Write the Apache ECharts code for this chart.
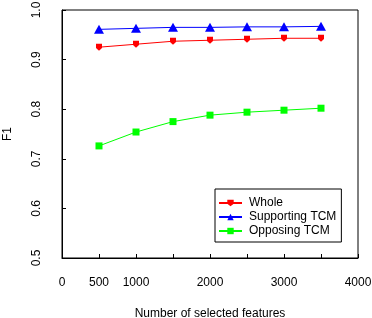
<!DOCTYPE html>
<html><head><meta charset="utf-8">
<script src="https://cdn.jsdelivr.net/npm/echarts@6/dist/echarts.min.js"></script>
<style>html,body{margin:0;padding:0;background:#fff}#c{width:372px;height:318px}</style>
</head><body><div id="c"></div>
<script>
const xValues = [500, 1000, 1500, 2000, 2500, 3000, 3500];
const seriesNames = ['Whole', 'Supporting TCM', 'Opposing TCM'];
const whole = [0.925, 0.931, 0.937, 0.939, 0.941, 0.943, 0.943];
const supporting = [0.961, 0.963, 0.965, 0.965, 0.966, 0.966, 0.967];
const opposing = [0.726, 0.754, 0.775, 0.788, 0.794, 0.798, 0.802];
const xTickLabels = ['0', '500', '1000', '2000', '3000', '4000'];
const yTickLabels = ['0.5', '0.6', '0.7', '0.8', '0.9', '1.0'];

const font = 'Liberation Sans';
const pair = a => xValues.map((x, i) => [x, a[i]]);
const chart = echarts.init(document.getElementById('c'), null, {renderer: 'canvas'});
chart.setOption({
  animation: false,
  backgroundColor: '#fff',
  grid: {left: 62, right: 14, top: 10, bottom: 60, outerBoundsMode: 'none', containLabel: false,
    show: true, borderColor: '#000', borderWidth: 1, backgroundColor: 'transparent'},
  legend: {
    left: 215, top: 189, orient: 'vertical',
    borderColor: '#000', borderWidth: 1, borderRadius: 0,
    padding: [8, 5, 5, 3], itemWidth: 23, itemHeight: 8, itemGap: 2,
    textStyle: {fontFamily: font, fontSize: 12, color: '#000', padding: [0, 0, 0, 2]},
    data: seriesNames
  },
  xAxis: {
    type: 'value', min: 0, max: 4000, interval: 500,
    name: 'Number of selected features', nameLocation: 'middle', nameGap: 50,
    nameTextStyle: {fontFamily: font, fontSize: 12, color: '#000'},
    axisLine: {lineStyle: {color: '#000'}},
    axisTick: {inside: true, length: 4, lineStyle: {color: '#000'}},
    splitLine: {show: false},
    axisLabel: {margin: 19, fontFamily: font, fontSize: 12, color: '#000',
      formatter: v => xTickLabels.indexOf(String(v)) >= 0 ? String(v) : ''}
  },
  yAxis: {
    type: 'value', min: 0.5, max: 1.0, interval: 0.1,
    name: 'F1', nameLocation: 'middle', nameGap: 48, nameRotate: 90,
    nameTextStyle: {fontFamily: font, fontSize: 12, color: '#000'},
    axisLine: {lineStyle: {color: '#000'}},
    axisTick: {inside: true, length: 4, lineStyle: {color: '#000'}},
    splitLine: {show: false},
    axisLabel: {margin: 19, rotate: 90, fontFamily: font, fontSize: 12, color: '#000',
      formatter: v => yTickLabels[Math.round((v - 0.5) * 10)]}
  },
  series: [
    {name: seriesNames[0], type: 'line', data: pair(whole), color: '#ff0000',
     symbol: 'path://M0,0 L10,0 L10,6 L5,10 L0,6 Z', symbolSize: [6, 7], lineStyle: {width: 1}},
    {name: seriesNames[1], type: 'line', data: pair(supporting), color: '#0000ff',
     symbol: 'triangle', symbolSize: [10, 9], lineStyle: {width: 1}},
    {name: seriesNames[2], type: 'line', data: pair(opposing), color: '#00ff00',
     symbol: 'rect', symbolSize: 7, lineStyle: {width: 1}}
  ]
});
</script></body></html>
